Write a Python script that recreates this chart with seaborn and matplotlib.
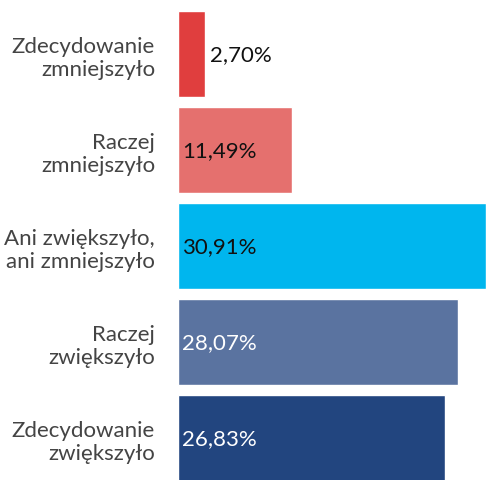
import matplotlib
matplotlib.use("Agg")
import matplotlib.pyplot as plt
import seaborn as sns
import pandas as pd

categories = [
    "Zdecydowanie\nzmniejszyło",
    "Raczej\nzmniejszyło",
    "Ani zwiększyło,\nani zmniejszyło",
    "Raczej\nzwiększyło",
    "Zdecydowanie\nzwiększyło",
]
values = [2.70, 11.49, 30.91, 28.07, 26.83]
colors = ["#E03E3E", "#E5706E", "#00B6EE", "#5A73A0", "#22457F"]
label_colors = ["#111111", "#111111", "#111111", "#FFFFFF", "#FFFFFF"]

df = pd.DataFrame({"kategoria": categories, "udzial": values})

sns.set_style("white")
plt.rcParams["font.family"] = ["Lato", "DejaVu Sans"]

W, H = 486, 481
fig = plt.figure(figsize=(W / 100, H / 100), dpi=100)
ax = fig.add_axes([178 / W, 0.0, 1 - 178 / W, 1.0])

sns.barplot(
    data=df, y="kategoria", x="udzial", hue="kategoria",
    palette=colors, order=categories, hue_order=categories,
    orient="h", width=0.896, legend=False, ax=ax, saturation=1,
)

ax.set_xlim(0, max(values))
ax.set_ylim((H - 55) / 96, -55 / 96)
ax.set_xlabel("")
ax.set_ylabel("")
ax.set_xticks([])
for s in ax.spines.values():
    s.set_visible(False)
ax.tick_params(axis="y", length=0, pad=16.5, labelsize=16, labelcolor="#444444")
for t in ax.get_yticklabels():
    t.set_horizontalalignment("right")
    t.set_multialignment("right")
    t.set_linespacing(1.2)

px = max(values) / (W - 178)
for i, (v, c) in enumerate(zip(values, label_colors)):
    txt = f"{v:.2f}%".replace(".", ",")
    if v < 5:
        ax.text(v + 5 * px, i, txt, va="center", ha="left", fontsize=16,
                color="#111111")
    else:
        ax.text(4 * px, i, txt, va="center", ha="left", fontsize=16,
                color=c)

fig.savefig("out.png", dpi=100, facecolor="white")
